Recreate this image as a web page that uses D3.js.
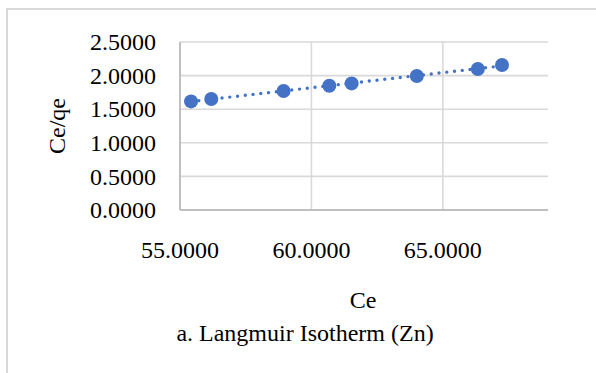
<!DOCTYPE html>
<html>
<head>
<meta charset="utf-8">
<script src="https://cdn.jsdelivr.net/npm/d3@7"></script>
<style>
  body { margin: 0; background: #fff; }
  svg text { font-family: "Liberation Serif", "Times New Roman", serif; fill: #000; }
</style>
</head>
<body>
<svg id="chart" width="596" height="373"></svg>
<script>
// values
var ce = [55.42, 56.19, 58.94, 60.68, 61.53, 64.01, 66.33, 67.25];
var ceqe = [1.616, 1.652, 1.771, 1.850, 1.884, 1.994, 2.098, 2.158];
var xTicks = [55, 60, 65];
var yTicks = [0, 0.5, 1.0, 1.5, 2.0, 2.5];

var svg = d3.select("#chart");
var margin = { top: 42, right: 48, bottom: 163, left: 180 },
    width = 596 - margin.left - margin.right,
    height = 373 - margin.top - margin.bottom;

// outer chart frame (cropped at right and bottom)
svg.append("rect")
    .attr("x", 7).attr("y", 9)
    .attr("width", 620).attr("height", 400)
    .attr("fill", "none")
    .attr("stroke", "#d9d9d9")
    .attr("stroke-width", 2);

var g = svg.append("g")
    .attr("transform", "translate(" + margin.left + "," + margin.top + ")");

var x = d3.scaleLinear().domain([55, 69]).range([0, width]);
var y = d3.scaleLinear().domain([0, 2.5]).range([height, 0]);

// gridlines
g.selectAll(".hgrid")
    .data(yTicks)
    .enter().append("line")
    .attr("class", "hgrid")
    .attr("x1", 0).attr("x2", width)
    .attr("y1", function (d) { return y(d); })
    .attr("y2", function (d) { return y(d); })
    .attr("stroke", "#d9d9d9")
    .attr("stroke-width", 1.6);

g.selectAll(".vgrid")
    .data(xTicks)
    .enter().append("line")
    .attr("class", "vgrid")
    .attr("x1", function (d) { return x(d); })
    .attr("x2", function (d) { return x(d); })
    .attr("y1", 0).attr("y2", height)
    .attr("stroke", "#d9d9d9")
    .attr("stroke-width", 1.6);

// axis lines
g.append("line")
    .attr("x1", 0).attr("x2", width)
    .attr("y1", height).attr("y2", height)
    .attr("stroke", "#bfbfbf").attr("stroke-width", 2);
g.append("line")
    .attr("x1", 0).attr("x2", 0)
    .attr("y1", 0).attr("y2", height)
    .attr("stroke", "#bfbfbf").attr("stroke-width", 2);

// tick labels
g.selectAll(".ylab")
    .data(yTicks)
    .enter().append("text")
    .attr("class", "ylab")
    .attr("x", -24)
    .attr("y", function (d) { return y(d); })
    .attr("dy", "0.34em")
    .attr("text-anchor", "end")
    .style("font-size", "24px")
    .text(function (d) { return d.toFixed(4); });

g.selectAll(".xlab")
    .data(xTicks)
    .enter().append("text")
    .attr("class", "xlab")
    .attr("x", function (d) { return x(d); })
    .attr("y", height + 48)
    .attr("text-anchor", "middle")
    .style("font-size", "24px")
    .text(function (d) { return d.toFixed(4); });

// axis titles
g.append("text")
    .attr("transform", "translate(" + (57 - margin.left) + "," + (height / 2) + ") rotate(-90)")
    .attr("dy", "0.34em")
    .attr("text-anchor", "middle")
    .style("font-size", "24px")
    .text("Ce/qe");

svg.append("text")
    .attr("x", 363).attr("y", 308)
    .attr("text-anchor", "middle")
    .style("font-size", "24px")
    .text("Ce");

svg.append("text")
    .attr("x", 305).attr("y", 341)
    .attr("text-anchor", "middle")
    .style("font-size", "24px")
    .text("a. Langmuir Isotherm (Zn)");

// linear trendline
var pts = ce.map(function (d, i) { return [d, ceqe[i]]; });
var mx = d3.mean(ce), my = d3.mean(ceqe);
var slope = d3.sum(pts, function (p) { return (p[0] - mx) * (p[1] - my); }) /
            d3.sum(pts, function (p) { return (p[0] - mx) * (p[0] - mx); });
var icpt = my - slope * mx;
var ext = d3.extent(ce);
var trend = ext.map(function (v) { return [v, icpt + slope * v]; });

g.append("path")
    .datum(trend)
    .attr("d", d3.line()
        .x(function (d) { return x(d[0]); })
        .y(function (d) { return y(d[1]); }))
    .attr("fill", "none")
    .attr("stroke", "#4472c4")
    .attr("stroke-width", 3.4)
    .attr("stroke-linecap", "round")
    .attr("stroke-dasharray", "0,7.8");

// markers
g.selectAll(".pt")
    .data(pts)
    .enter().append("circle")
    .attr("class", "pt")
    .attr("cx", function (d) { return x(d[0]); })
    .attr("cy", function (d) { return y(d[1]); })
    .attr("r", 7)
    .attr("fill", "#4472c4");
</script>
</body>
</html>
